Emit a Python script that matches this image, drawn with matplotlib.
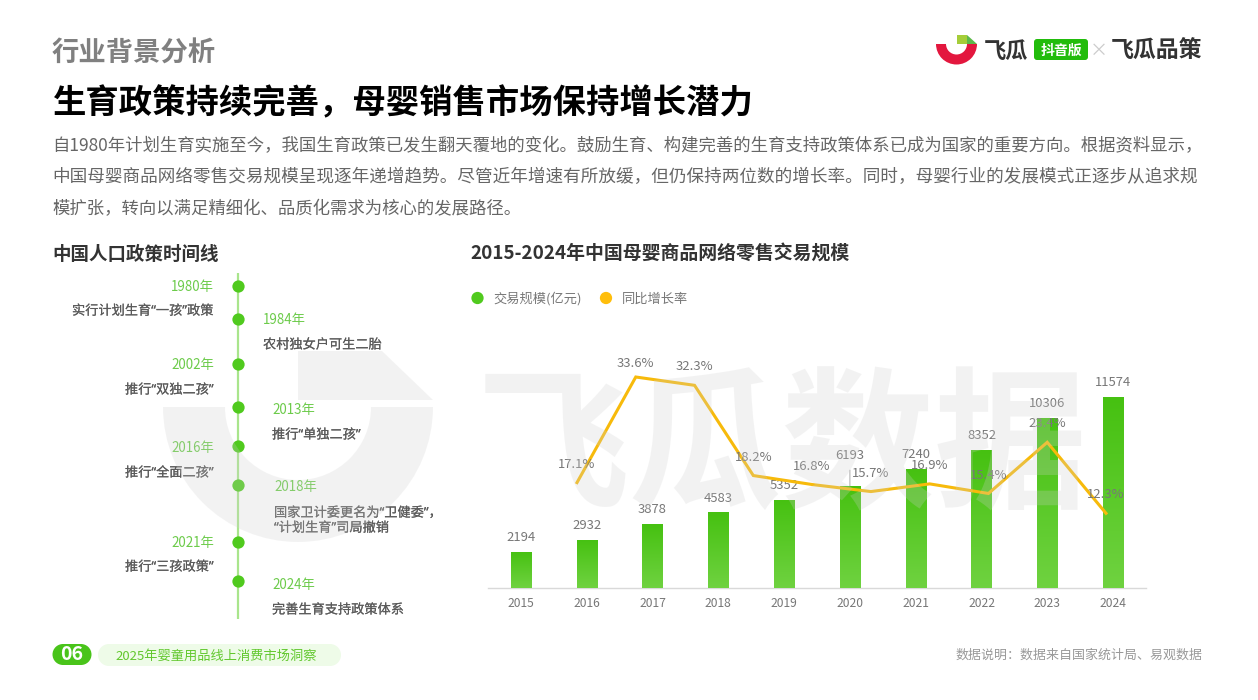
import numpy as np
import matplotlib
matplotlib.use('Agg')
import matplotlib.pyplot as plt
import matplotlib.patheffects as pe
from matplotlib.patches import Wedge, Polygon, FancyBboxPatch, Rectangle
from matplotlib.colors import LinearSegmentedColormap

plt.rcParams['font.family'] = ['Noto Sans CJK SC', 'DejaVu Sans']

W, H = 1258, 700

# chart data
years = ['2015', '2016', '2017', '2018', '2019', '2020', '2021', '2022', '2023', '2024']
scale_values = [2194, 2932, 3878, 4583, 5352, 6193, 7240, 8352, 10306, 11574]
growth_values = [17.1, 33.6, 32.3, 18.2, 16.8, 15.7, 16.9, 15.4, 23.4, 12.3]

# timeline data
policy_years = ['1980年', '1984年', '2002年', '2013年', '2016年', '2018年', '2021年', '2024年']
policy_texts = [
    '实行计划生育“一孩”政策',
    '农村独女户可生二胎',
    '推行“双独二孩”',
    '推行“单独二孩”',
    '推行“全面二孩”',
    '国家卫计委更名为“卫健委”，\n“计划生育”司局撤销',
    '推行“三孩政策”',
    '完善生育支持政策体系',
]

body_lines = [
    '自1980年计划生育实施至今，我国生育政策已发生翻天覆地的变化。鼓励生育、构建完善的生育支持政策体系已成为国家的重要方向。根据资料显示，',
    '中国母婴商品网络零售交易规模呈现逐年递增趋势。尽管近年增速有所放缓，但仍保持两位数的增长率。同时，母婴行业的发展模式正逐步从追求规',
    '模扩张，转向以满足精细化、品质化需求为核心的发展路径。',
]

GREEN = '#50CA1E'
TEXT_GREEN = '#6CCB4A'
LABEL = '#777777'
QUOTE_FONT = ['Noto Sans', 'Noto Sans CJK SC']  # narrow quotes like the original


def axes_px(x0, y0, x1, y1, **kw):
    return fig.add_axes([x0 / W, 1 - y1 / H, (x1 - x0) / W, (y1 - y0) / H], **kw)


fig = plt.figure(figsize=(W / 100, H / 100), dpi=100, facecolor='white')

# page layer, in pixel coordinates
page = axes_px(0, 0, W, H, zorder=1)
page.set_xlim(0, W)
page.set_ylim(H, 0)
page.axis('off')

page.text(52, 54, '行业背景分析', fontsize=19.7, fontweight='bold', color='#808080', va='center')
page.text(52.5, 103.5, '生育政策持续完善，母婴销售市场保持增长潜力', fontsize=24, fontweight='bold', color='#000000', va='center')
for y, line, size in zip([146, 177, 209], body_lines, [12.5, 12.68, 12.5]):
    page.text(52, y, line, fontsize=size, color='#666666', va='center')

page.text(52, 254, '中国人口政策时间线', fontsize=13.3, fontweight='bold', color='#333333', va='center')
page.text(470.5, 254, '2015-2024年中国母婴商品网络零售交易规模', fontsize=13.6, fontweight='bold', color='#333333', va='center')

# header logo
page.add_patch(Wedge((956.5, 44), 20.5, 0, 180, width=10, fc='#E3173E', ec='none'))
page.add_patch(Rectangle((957, 35), 10, 9, fc='#A5CD39', ec='none'))
page.add_patch(Polygon([(967, 35), (977, 44), (967, 44)], fc='#5DB94A', ec='none'))
page.text(984, 51.5, '飞瓜', fontsize=16, fontweight='bold', color='#333333', va='center')
page.add_patch(FancyBboxPatch((1036, 41), 50, 17, boxstyle='round,pad=2,rounding_size=3', fc='#22BC0C', ec='none'))
page.text(1061, 50.5, '抖音版', fontsize=10, fontweight='bold', color='white', va='center', ha='center')
page.text(1099, 51, '×', fontsize=13, color='#CCCCCC', va='center', ha='center')
page.text(1111, 51.5, '飞瓜品策', fontsize=16.5, fontweight='bold', color='#333333', va='center')

# timeline
dot_ys = [286, 319, 364, 407, 446, 485, 542, 581]
year_ys = [287, 320, 365, 410, 448, 487, 543, 585]
text_ys = [311, 345, 390, 435, 473, 520.5, 567, 610]
right_xs = [None, 263, None, 272, None, 274, None, 272]
page.plot([238, 238], [273, 619], color='#A9E58C', lw=1.6, zorder=2, solid_capstyle='butt')
page.scatter([238] * len(dot_ys), dot_ys, s=78, color=GREEN, linewidths=0, zorder=3)
for i in range(len(policy_years)):
    x = right_xs[i] if right_xs[i] else 214
    ha = 'left' if right_xs[i] else 'right'
    page.text(x, year_ys[i], policy_years[i], fontsize=9.6, color=TEXT_GREEN, va='center', ha=ha)
    page.text(x, text_ys[i], policy_texts[i], fontsize=9.5, family=QUOTE_FONT, color='#5A5A5A',
              va='center', ha=ha, linespacing=1.2,
              path_effects=[pe.withStroke(linewidth=0.1, foreground='#5A5A5A')])

# legend
page.scatter([477.5, 606], [298, 298], s=78, color=[GREEN, '#FFBE0B'], linewidths=0)
page.text(493, 299, '交易规模(亿元)', fontsize=9.5, color=LABEL, va='center')
page.text(622, 299, '同比增长率', fontsize=9.5, color=LABEL, va='center')

# footer
page.add_patch(Rectangle((63, 644), 18, 21, fc='#49C41A', ec='none'))
page.add_patch(Wedge((63, 654.5), 10.5, 90, 270, fc='#49C41A', ec='none'))
page.add_patch(Wedge((81, 654.5), 10.5, -90, 90, fc='#49C41A', ec='none'))
page.text(72, 655, '06', fontsize=14, fontweight='bold', color='white', va='center', ha='center')
page.add_patch(Rectangle((109, 644), 221, 22, fc='#EEFBE8', ec='none'))
page.add_patch(Wedge((109, 655), 11, 90, 270, fc='#EEFBE8', ec='none'))
page.add_patch(Wedge((330, 655), 11, -90, 90, fc='#EEFBE8', ec='none'))
page.text(115, 656, '2025年婴童用品线上消费市场洞察', fontsize=9.5, color='#62C82E', va='center')
page.text(1203, 655, '数据说明：数据来自国家统计局、易观数据', fontsize=9.35, color='#999999', va='center', ha='right')

# bars, band axis over 488..1146, 0.0165 px per unit
ax = axes_px(488, 340, 1146, 588, zorder=2)
ax.patch.set_alpha(0)
bars = ax.bar(range(len(years)), scale_values, width=0.304, color=GREEN, zorder=2)
grad = LinearSegmentedColormap.from_list('bar_grad', ['#46C111', '#6FD240'])
for b in bars:
    im = ax.imshow(np.linspace(0, 1, 64).reshape(-1, 1), cmap=grad, aspect='auto', zorder=3,
                   extent=[b.get_x(), b.get_x() + b.get_width(), 0, b.get_height()])
    im.set_clip_path(b)
ax.set_xlim(-0.5, 9.5)
ax.set_ylim(0, 248 / 0.0165)
ax.set_xticks(range(len(years)))
ax.set_xticklabels(years, fontsize=8.7, color=LABEL)
ax.set_yticks([])
ax.tick_params(axis='x', length=0, pad=6.3)
for s in ['top', 'left', 'right']:
    ax.spines[s].set_visible(False)
ax.spines['bottom'].set_color('#D9D9D9')
ax.spines['bottom'].set_linewidth(1)

for i, v in enumerate(scale_values):
    if i == 5:
        # this label sits higher with a leader line
        ax.annotate(str(v), (i, v), xytext=(0, 22), textcoords='offset points', ha='center', va='center',
                    fontsize=9.4, color=LABEL, zorder=5,
                    arrowprops=dict(arrowstyle='-', color='#AAAAAA', lw=0.7, shrinkA=4, shrinkB=0))
    else:
        ax.annotate(str(v), (i, v), xytext=(0, 10.3), textcoords='offset points', ha='center', va='center',
                    fontsize=9.4, color=LABEL, zorder=5)

# growth line has its own band axis, narrower than the bars
ax2 = axes_px(547.6, 340, 1135.4, 588, zorder=3)
ax2.patch.set_alpha(0)
ax2.axis('off')
ax2.plot(range(len(growth_values)), growth_values, color='#F7BA0B', lw=2.2, solid_joinstyle='miter')
ax2.set_xlim(-0.5, 9.5)
ax2.set_ylim(33.6 - 211 / 6.4, 33.6 + 37 / 6.4)
for i, v in enumerate(growth_values):
    off = 9.5 if i == 1 else 13.2
    ax2.annotate(f'{v}%', (i, v), xytext=(0, off), textcoords='offset points', ha='center', va='center',
                 fontsize=9.4, color=LABEL)

# watermark lies over everything
top = axes_px(0, 0, W, H, zorder=10)
top.patch.set_alpha(0)
top.set_xlim(0, W)
top.set_ylim(H, 0)
top.axis('off')
wm = '#CFCFCF'
top.add_patch(Wedge((298, 407), 135, 0, 180, width=62, fc=wm, ec='none', alpha=0.25))
top.add_patch(Polygon([(298, 351), (382, 351), (433, 400), (372, 400), (298, 400)], fc=wm, ec='none', alpha=0.25))
top.text(782, 452, '飞瓜数据', fontsize=110, fontweight='bold', color=wm, alpha=0.25, ha='center', va='center')

fig.savefig('out.png', dpi=100)
